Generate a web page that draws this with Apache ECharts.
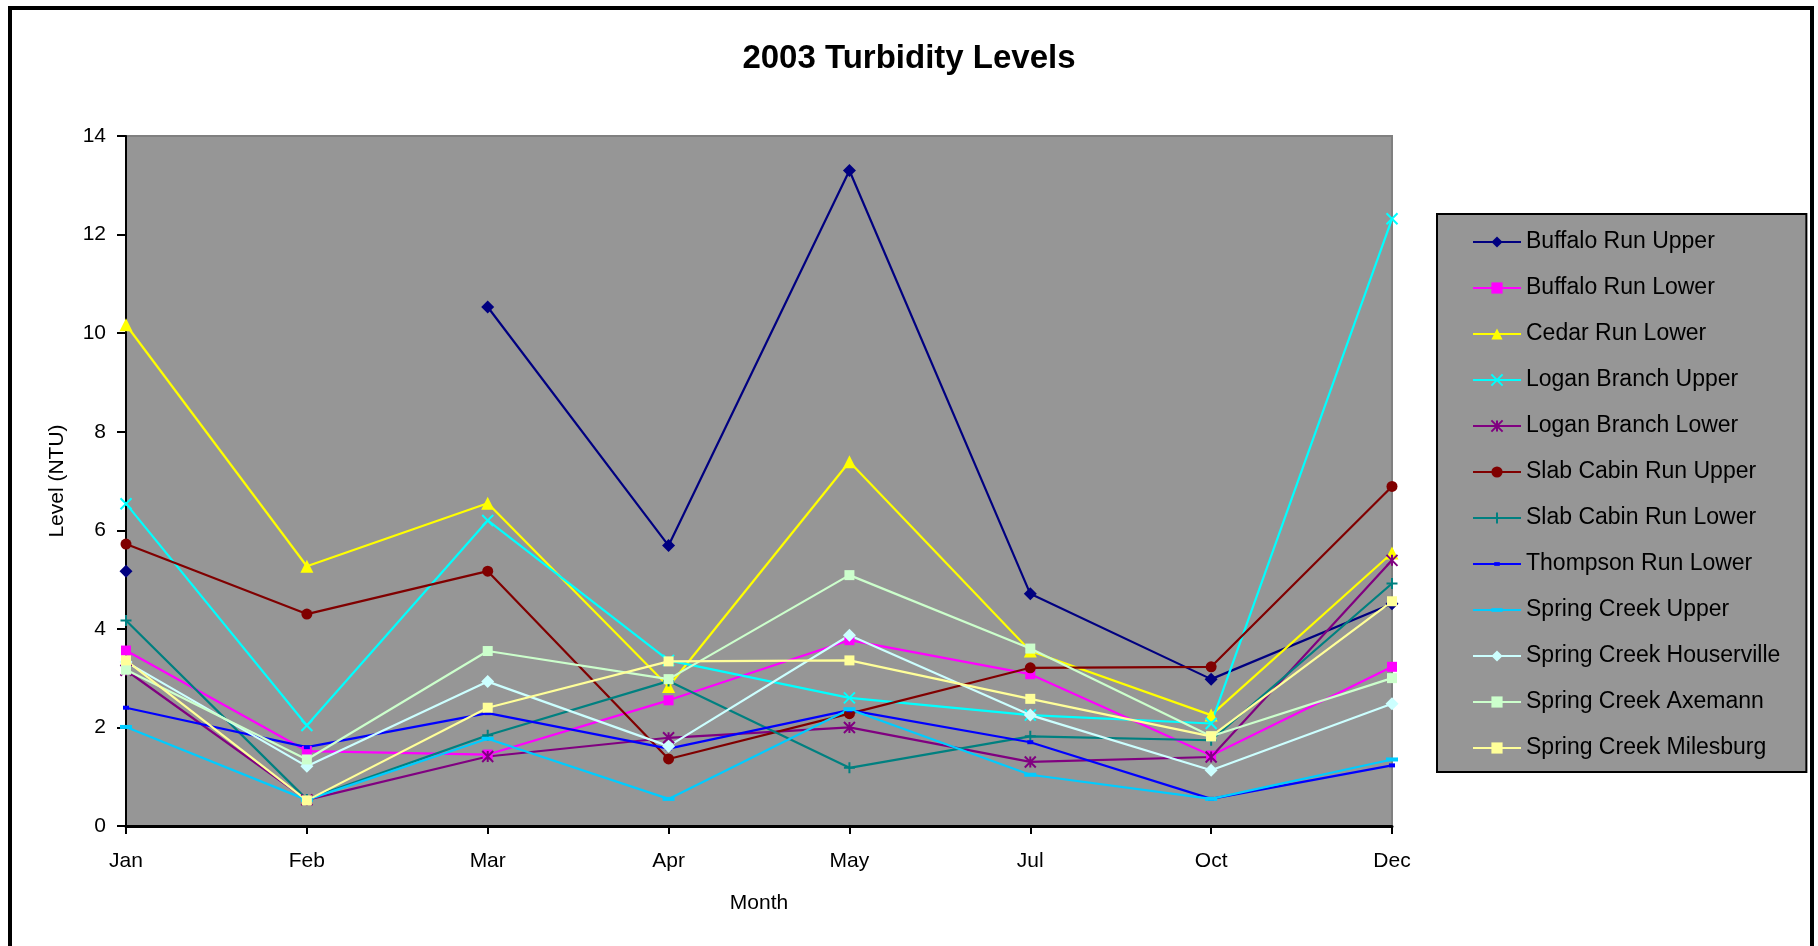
<!DOCTYPE html>
<html>
<head>
<meta charset="utf-8">
<title>2003 Turbidity Levels</title>
<script src="https://cdn.jsdelivr.net/npm/echarts@6/dist/echarts.min.js"></script>
<style>
  html, body { margin: 0; padding: 0; background: #fff; }
  #main { width: 1818px; height: 946px; }
</style>
</head>
<body>
<div id="main"></div>
<script>
  // months sampled in 2003
  var months = ['Jan', 'Feb', 'Mar', 'Apr', 'May', 'Jul', 'Oct', 'Dec']
  var yTicks = [0, 2, 4, 6, 8, 10, 12, 14]

  // turbidity, NTU (null = no sample)
  var buffaloRunUpper = [5.17, null, 10.53, 5.69, 13.3, 4.71, 2.98, 4.51]
  var buffaloRunLower = [3.56, 1.52, 1.45, 2.55, 3.77, 3.08, 1.43, 3.23]
  var cedarRunLower = [10.17, 5.27, 6.55, 2.83, 7.39, 3.55, 2.25, 5.54]
  var loganBranchUpper = [6.54, 2.04, 6.2, 3.36, 2.6, 2.25, 2.08, 12.32]
  var loganBranchLower = [3.16, 0.53, 1.41, 1.79, 2.0, 1.3, 1.4, 5.39]
  var slabCabinRunUpper = [5.72, 4.3, 5.17, 1.36, 2.28, 3.21, 3.23, 6.89]
  var slabCabinRunLower = [4.17, 0.54, 1.84, 2.94, 1.18, 1.82, 1.74, 4.92]
  var thompsonRunLower = [2.4, 1.6, 2.29, 1.57, 2.35, 1.7, 0.55, 1.23]
  var springCreekUpper = [2.01, 0.53, 1.77, 0.55, 2.37, 1.04, 0.55, 1.35]
  var springCreekHouserville = [3.33, 1.21, 2.93, 1.62, 3.87, 2.25, 1.13, 2.48]
  var springCreekAxemann = [3.17, 1.35, 3.55, 2.98, 5.09, 3.6, 1.82, 3.0]
  var springCreekMilesburg = [3.36, 0.52, 2.4, 3.34, 3.36, 2.58, 1.82, 4.56]

  var FONT = 'Liberation Sans, Arial, sans-serif'

  // marker shapes (stroked ones get a border)
  var X_MARK = 'path://M0,0L10,10M10,0L0,10'
  var STAR_MARK = 'path://M0,0L10,10M10,0L0,10M5,0L5,10'
  var PLUS_MARK = 'path://M5,0L5,10M0,5L10,5'
  var SHORT_DASH = 'path://M0,0M12,12M3,4h6v4h-6z'
  var LONG_DASH = 'path://M0,0M12,12M0,4h12v4h-12z'

  function makeSeries(name, data, color, symbol, size, stroked) {
    var itemStyle = { color: color }
    if (stroked) {
      itemStyle.borderColor = color
      itemStyle.borderWidth = 2
    }
    return {
      name: name,
      type: 'line',
      data: data,
      symbol: symbol,
      symbolSize: size,
      showAllSymbol: true,
      connectNulls: false,
      lineStyle: { color: color, width: 2.2 },
      itemStyle: itemStyle,
      emphasis: { disabled: true }
    }
  }

  var seriesList = [
    makeSeries('Buffalo Run Upper', buffaloRunUpper, '#000080', 'diamond', 13),
    makeSeries('Buffalo Run Lower', buffaloRunLower, '#FF00FF', 'rect', 10),
    makeSeries('Cedar Run Lower', cedarRunLower, '#FFFF00', 'triangle', 13),
    makeSeries('Logan Branch Upper', loganBranchUpper, '#00FFFF', X_MARK, 11, true),
    makeSeries('Logan Branch Lower', loganBranchLower, '#800080', STAR_MARK, 11, true),
    makeSeries('Slab Cabin Run Upper', slabCabinRunUpper, '#800000', 'circle', 11),
    makeSeries('Slab Cabin Run Lower', slabCabinRunLower, '#008080', PLUS_MARK, 11, true),
    makeSeries('Thompson Run Lower', thompsonRunLower, '#0000FF', SHORT_DASH, 12),
    makeSeries('Spring Creek Upper', springCreekUpper, '#00CCFF', LONG_DASH, 12),
    makeSeries('Spring Creek Houserville', springCreekHouserville, '#CCFFFF', 'diamond', 13),
    makeSeries('Spring Creek Axemann', springCreekAxemann, '#CCFFCC', 'rect', 10),
    makeSeries('Spring Creek Milesburg', springCreekMilesburg, '#FFFF99', 'rect', 10)
  ]

  var option = {
    animation: false,
    backgroundColor: '#fff',
    textStyle: { fontFamily: FONT },
    title: {
      text: '2003 Turbidity Levels',
      left: 'center',
      top: 37,
      textStyle: { fontFamily: FONT, fontSize: 33, fontWeight: 'bold', color: '#000' }
    },
    legend: {
      orient: 'vertical',
      left: 1437,
      top: 214,
      padding: [16, 26, 12, 35],
      itemWidth: 48,
      itemHeight: 14,
      itemGap: 22,
      backgroundColor: '#969696',
      borderColor: '#000',
      borderWidth: 2,
      selectedMode: false,
      textStyle: { fontFamily: FONT, fontSize: 23, color: '#000', lineHeight: 24 },
      data: seriesList.map(function (s) { return s.name })
    },
    grid: {
      left: 126,
      top: 136,
      right: 426,
      bottom: 120,
      show: true,
      backgroundColor: '#969696',
      borderColor: '#808080',
      borderWidth: 2
    },
    xAxis: {
      type: 'category',
      data: months,
      boundaryGap: false,
      name: 'Month',
      nameLocation: 'middle',
      nameGap: 67,
      nameTextStyle: { fontFamily: FONT, fontSize: 21, color: '#000' },
      axisLine: { lineStyle: { color: '#000', width: 3 } },
      axisTick: { length: 8, lineStyle: { color: '#000', width: 2 } },
      axisLabel: { fontFamily: FONT, fontSize: 21, color: '#000', margin: 25 },
      splitLine: { show: false }
    },
    yAxis: {
      type: 'value',
      min: yTicks[0],
      max: yTicks[yTicks.length - 1],
      interval: 2,
      name: 'Level (NTU)',
      nameLocation: 'middle',
      nameGap: 58,
      nameRotate: 90,
      nameTextStyle: { fontFamily: FONT, fontSize: 21, color: '#000' },
      axisLine: { show: true, lineStyle: { color: '#000', width: 2 } },
      axisTick: { show: true, length: 9, lineStyle: { color: '#000', width: 2 } },
      axisLabel: { fontFamily: FONT, fontSize: 21, color: '#000', margin: 20 },
      splitLine: { show: false }
    },
    graphic: [
      {
        // outer chart frame
        type: 'rect',
        silent: true,
        z: 100,
        shape: { x: 10, y: 8, width: 1802, height: 1000 },
        style: { fill: null, stroke: '#000', lineWidth: 4 }
      }
    ],
    series: seriesList
  }

  var chart = echarts.init(document.getElementById('main'))
  chart.setOption(option)
  window.addEventListener('resize', function () { chart.resize() })
</script>
</body>
</html>
